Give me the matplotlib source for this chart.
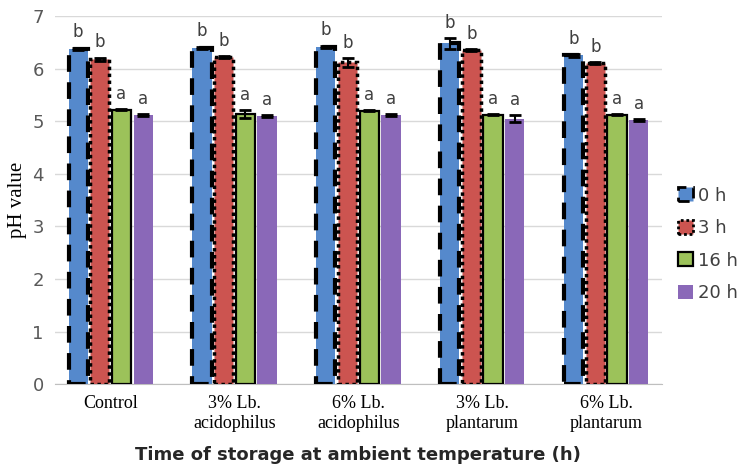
import numpy as np
import matplotlib.pyplot as plt
from matplotlib.patches import Patch

groups = ["Control", "3% Lb.\nacidophilus", "6% Lb.\nacidophilus", "3% Lb.\nplantarum", "6% Lb.\nplantarum"]
series = ["0 h", "3 h", "16 h", "20 h"]
ph_0h = [6.38, 6.40, 6.42, 6.48, 6.25]
ph_3h = [6.18, 6.22, 6.12, 6.35, 6.10]
ph_16h = [5.22, 5.14, 5.20, 5.12, 5.12]
ph_20h = [5.12, 5.10, 5.12, 5.05, 5.02]
err_0h = [0.02, 0.02, 0.02, 0.10, 0.02]
err_3h = [0.03, 0.02, 0.08, 0.02, 0.02]
err_16h = [0.01, 0.07, 0.01, 0.01, 0.01]
err_20h = [0.02, 0.01, 0.02, 0.06, 0.02]
letters = [["b"] * 5, ["b"] * 5, ["a"] * 5, ["a"] * 5]

values = [ph_0h, ph_3h, ph_16h, ph_20h]
errors = [err_0h, err_3h, err_16h, err_20h]
fills = ["#5589cc", "#cc5450", "#9cc25a", "#8a68b8"]
edges = ["black", "black", "black", "none"]
styles = [(0, (4, 2.5)), (0, (1, 1)), "solid", "solid"]
lws = [3.0, 2.5, 1.6, 0]

fig = plt.figure(figsize=(7.42, 4.72), dpi=100)
ax = fig.add_axes([0.074, 0.186, 0.818, 0.78])

x = np.arange(len(groups))
w = 0.155
step = 0.175
for i in range(4):
    pos = x + (i - 1.5) * step
    ax.bar(pos, values[i], w, color=fills[i], edgecolor=edges[i],
           linestyle=styles[i], linewidth=lws[i], zorder=3)
    ax.errorbar(pos, values[i], yerr=errors[i], fmt="none", ecolor="black",
                elinewidth=1.5, capsize=4, capthick=2, zorder=5)
    for p, v, e, t in zip(pos, values[i], errors[i], letters[i]):
        ax.text(p, v + e + 0.12, t, ha="center", va="bottom", fontsize=12,
                color="#404040", zorder=6)

ax.set_ylim(0, 7)
ax.set_xlim(-0.45, 4.45)
ax.set_yticks(range(8))
ax.tick_params(axis="y", length=0, labelsize=13, labelcolor="#595959", pad=8)
ax.tick_params(axis="x", length=0, pad=8)
ax.set_xticks(x)
ax.set_xticklabels(groups, fontfamily="Liberation Serif", fontsize=13)
ax.grid(axis="y", color="#d9d9d9", linewidth=1, zorder=0)
ax.set_axisbelow(True)
for s in ["left", "right", "top"]:
    ax.spines[s].set_visible(False)
ax.spines["bottom"].set_color("#bfbfbf")

ax.set_ylabel("pH value", fontfamily="Liberation Serif", fontsize=15)
ax.set_xlabel("Time of storage at ambient temperature (h)", fontsize=13,
              fontweight="bold", color="#262626", labelpad=10)

handles = [Patch(facecolor=fills[i], edgecolor=edges[i], linestyle=styles[i],
                 linewidth=min(lws[i], 2)) for i in range(4)]
leg = ax.legend(handles, series, loc="center left", bbox_to_anchor=(1.0, 0.38),
                frameon=False, fontsize=13, handlelength=0.8, handleheight=0.8,
                handletextpad=0.3, labelspacing=0.8, labelcolor="#404040")

fig.savefig("out.png", dpi=100)
